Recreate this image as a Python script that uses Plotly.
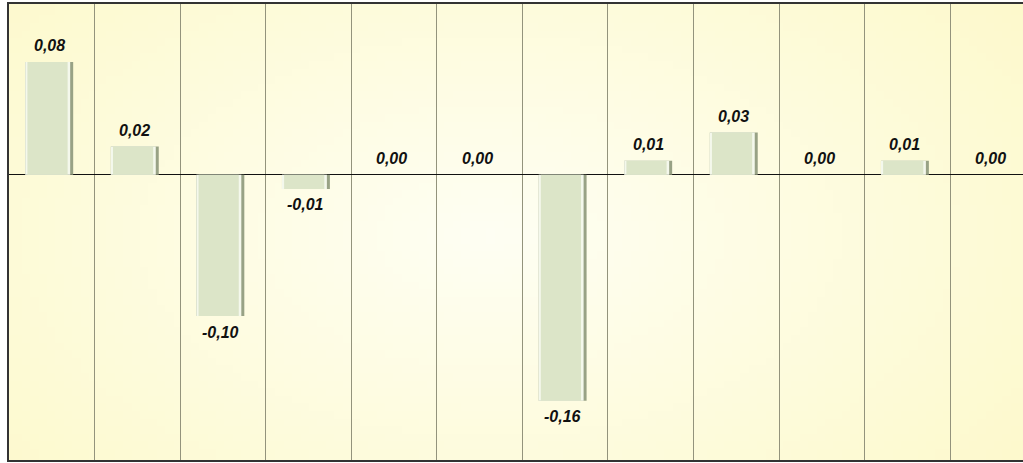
import struct, zlib, base64
import numpy as np
import plotly.graph_objects as go

# ---- data ----
categories = [str(i) for i in range(1, 13)]
values = [0.08, 0.02, -0.10, -0.01, 0.00, 0.00, -0.16, 0.01, 0.03, 0.00, 0.01, 0.00]
labels = [f"{v:.2f}".replace(".", ",") for v in values]

x = list(range(len(values)))

# ---- background gradient image (decoration) ----
W, H = 120, 60
yy, xx = np.mgrid[0:H, 0:W]
cx, cy = 0.47 * W, 0.5 * H
d = np.sqrt(((xx - cx) / (0.7 * W)) ** 2 + ((yy - cy) / (0.9 * H)) ** 2)
d = np.clip(d, 0, 1)
c0 = np.array([255, 255, 244])
c1 = np.array([253, 249, 202])
img = (c0[None, None, :] * (1 - d[..., None]) + c1[None, None, :] * d[..., None]).astype(np.uint8)
raw = b"".join(b"\x00" + img[r].tobytes() for r in range(H))
def chunk(t, data):
    c = struct.pack(">I", len(data)) + t + data
    return c + struct.pack(">I", zlib.crc32(t + data) & 0xffffffff)
png = b"\x89PNG\r\n\x1a\n" + chunk(b"IHDR", struct.pack(">IIBBBBB", W, H, 8, 2, 0, 0, 0)) + \
      chunk(b"IDAT", zlib.compress(raw)) + chunk(b"IEND", b"")
uri = "data:image/png;base64," + base64.b64encode(png).decode()

fig = go.Figure()
# shadow (dark bevel)
fig.add_trace(go.Bar(x=x, y=values, width=0.56, offset=-0.31,
                     marker=dict(color="#98a285", line=dict(width=0)),
                     hoverinfo="skip", showlegend=False))
# highlight
fig.add_trace(go.Bar(x=x, y=values, width=0.525, offset=-0.31,
                     marker=dict(color="#f4f8ec", line=dict(width=0)),
                     hoverinfo="skip", showlegend=False))
# main face
fig.add_trace(go.Bar(x=x, y=values, width=0.47, offset=-0.285,
                     marker=dict(color="#dce5c8", line=dict(width=0)),
                     hoverinfo="skip", showlegend=False))

annotations = []
for xi, v, lab in zip(x, values, labels):
    annotations.append(dict(x=xi - 0.03, y=v, xref="x", yref="y", text=lab, showarrow=False,
                            yshift=(-16 if v < 0 else 16),
                            font=dict(family="Liberation Sans", size=16, color="#111111",
                                      weight="bold", style="italic")))

fig.update_layout(
    width=1023, height=463,
    margin=dict(l=9, r=0, t=4, b=3),
    barmode="overlay",
    paper_bgcolor="white",
    plot_bgcolor="#fffde0",
    annotations=annotations,
    images=[dict(source=uri, xref="paper", yref="paper", x=0, y=1, sizex=1, sizey=1,
                 sizing="stretch", layer="below", xanchor="left", yanchor="top")],
)
fig.update_xaxes(range=[-0.5, 11.35], tickvals=[i - 0.5 for i in range(13)],
                 showticklabels=False, ticks="", showgrid=True, gridcolor="#93937c",
                 gridwidth=1, showline=True, linecolor="#333333", linewidth=2, mirror=True,
                 zeroline=False)
fig.update_yaxes(range=[-0.202, 0.121], showgrid=False, showticklabels=False, ticks="",
                 zeroline=True, zerolinecolor="#111111", zerolinewidth=1.2,
                 showline=True, linecolor="#333333", linewidth=2, mirror=False)

fig.write_html("out.html", config={"displayModeBar": False},
               post_script="document.body.style.margin='0px';document.body.style.overflow='hidden';")
